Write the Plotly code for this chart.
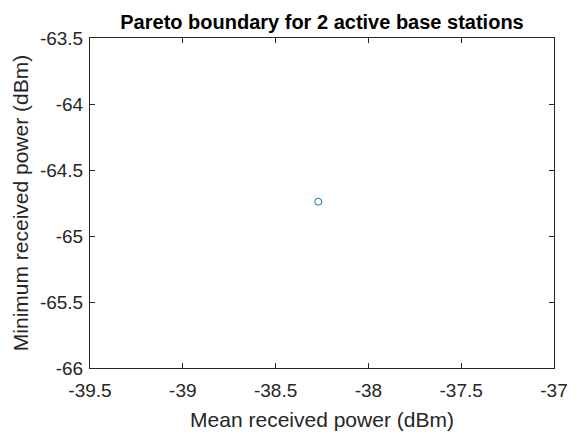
import plotly.graph_objects as go

mean_power = [-38.27]
min_power = [-64.74]
x_ticks = [-39.5, -39, -38.5, -38, -37.5, -37]
y_ticks = [-66, -65.5, -65, -64.5, -64, -63.5]

fig = go.Figure()
fig.add_trace(go.Scatter(
    x=mean_power, y=min_power, mode="markers",
    marker=dict(symbol="circle-open", size=7, color="#0072BD", line=dict(width=1)),
    showlegend=False,
))

axis_common = dict(
    showgrid=False, zeroline=False, showline=True, mirror="ticks",
    linecolor="#262626", linewidth=1, ticks="inside", ticklen=5,
    tickcolor="#262626", tickfont=dict(size=19, color="#262626"),
)
fig.update_xaxes(range=[-39.5, -37], tickvals=x_ticks,
                 ticktext=[f"{v:g}" for v in x_ticks],
                 ticklabelstandoff=5,
                 title=dict(text="Mean received power (dBm)", font=dict(size=21, color="#262626"), standoff=12),
                 **axis_common)
fig.update_yaxes(range=[-66, -63.5], tickvals=y_ticks,
                 ticktext=[f"{v:g}" for v in y_ticks],
                 ticklabelstandoff=2,
                 title=dict(text="Minimum received power (dBm)", font=dict(size=21, color="#262626"), standoff=5),
                 **axis_common)

fig.update_layout(
    width=580, height=439,
    margin=dict(l=90, r=16, t=38, b=67),
    plot_bgcolor="white", paper_bgcolor="white",
    font=dict(family="Liberation Sans, Arial, sans-serif"),
    title=dict(text="<b>Pareto boundary for 2 active base stations</b>",
               x=0.5, xanchor="center", xref="paper", y=0.935, yanchor="bottom",
               font=dict(size=20, color="black")),
)
fig.write_html("out.html")
